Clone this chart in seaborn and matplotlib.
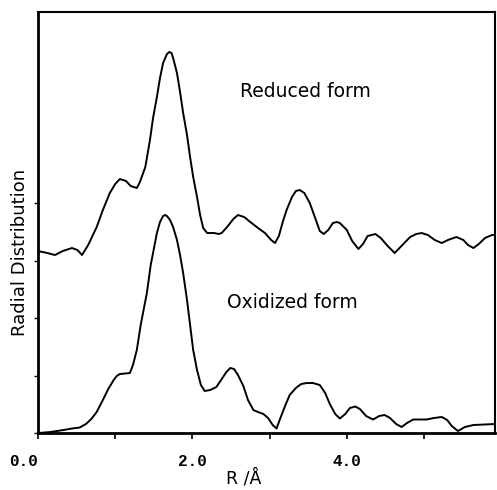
import numpy as np
import pandas as pd
import matplotlib
matplotlib.use("Agg")
import matplotlib.pyplot as plt
import seaborn as sns

# radial distribution curves (R in Angstrom, g in arbitrary units)
r_reduced = [0.00, 0.12, 0.22, 0.32, 0.44, 0.51, 0.57, 0.65, 0.76, 0.84, 0.93,
             1.00, 1.06, 1.14, 1.20, 1.28, 1.32, 1.39, 1.45, 1.49, 1.54, 1.58,
             1.62, 1.67, 1.70, 1.73, 1.75, 1.80, 1.84, 1.88, 1.93, 1.97, 2.01,
             2.06, 2.10, 2.14, 2.19, 2.28, 2.34, 2.38, 2.46, 2.53, 2.59, 2.67,
             2.75, 2.85, 2.94, 3.02, 3.07, 3.12, 3.17, 3.22, 3.29, 3.34, 3.39,
             3.45, 3.52, 3.60, 3.65, 3.70, 3.76, 3.82, 3.87, 3.91, 4.00, 4.07,
             4.15, 4.21, 4.27, 4.37, 4.44, 4.53, 4.62, 4.72, 4.82, 4.90, 4.97,
             5.05, 5.14, 5.23, 5.31, 5.42, 5.51, 5.57, 5.64, 5.71, 5.79, 5.88,
             5.92]
g_reduced = [182, 180, 178, 182, 185, 183, 178, 188, 206, 223, 240,
             249, 254, 252, 247, 245, 251, 266, 293, 315, 336, 355,
             370, 379, 381, 380, 375, 360, 341, 320, 298, 276, 256,
             236, 218, 205, 200, 200, 199, 200, 207, 214, 218, 216,
             211, 205, 200, 193, 190, 197, 211, 223, 236, 242, 243,
             240, 230, 213, 202, 199, 203, 210, 211, 210, 203, 192,
             184, 189, 197, 199, 195, 187, 180, 188, 196, 199, 200,
             198, 193, 190, 193, 196, 193, 188, 185, 189, 195, 198,
             198]

r_oxidized = [0.00, 0.16, 0.33, 0.44, 0.54, 0.62, 0.69, 0.76, 0.84, 0.91, 0.98,
              1.02, 1.06, 1.13, 1.19, 1.23, 1.28, 1.33, 1.41, 1.46, 1.54, 1.58,
              1.62, 1.65, 1.67, 1.71, 1.75, 1.80, 1.84, 1.88, 1.93, 1.97, 2.01,
              2.06, 2.11, 2.16, 2.23, 2.31, 2.38, 2.44, 2.49, 2.54, 2.59, 2.66,
              2.72, 2.79, 2.85, 2.92, 2.98, 3.04, 3.09, 3.13, 3.20, 3.26, 3.34,
              3.41, 3.48, 3.56, 3.65, 3.72, 3.78, 3.85, 3.91, 3.98, 4.04, 4.11,
              4.17, 4.25, 4.34, 4.42, 4.49, 4.56, 4.64, 4.71, 4.78, 4.86, 4.95,
              5.03, 5.13, 5.23, 5.30, 5.36, 5.44, 5.53, 5.64, 5.78, 5.92]
g_oxidized = [0, 1, 3, 4.5, 5.5, 9, 14, 21, 33, 44, 53,
              57, 59, 59.5, 60, 68, 83, 108, 140, 168, 200, 211,
              217, 218, 217, 213, 206, 193, 178, 160, 133, 108, 83,
              63, 48, 42, 43, 46, 54, 61, 65, 64, 58, 47,
              33, 23, 21, 19, 15, 8, 4.5, 13, 27, 38, 45,
              49, 50, 50, 48, 40, 29, 19, 14.5, 19, 25, 26.5,
              24, 17, 13.5, 17, 18, 15, 9, 6, 10, 13.5, 13.5,
              13.5, 15, 16, 13, 7, 2, 6, 8, 8.5, 9]

major_ticks = [0.0, 2.0, 4.0]
minor_ticks = [1.0, 3.0, 5.0]
tick_labels = ["0.0", "2.0", "4.0"]
y_ticks = [0, 57.5, 115, 172.5, 230]

df = pd.concat([
    pd.DataFrame({"R": r_reduced, "g": g_reduced, "form": "Reduced form"}),
    pd.DataFrame({"R": r_oxidized, "g": g_oxidized, "form": "Oxidized form"}),
])

sns.set_style("ticks", {"axes.edgecolor": "black", "text.color": "black",
                        "axes.labelcolor": "black", "xtick.color": "black",
                        "ytick.color": "black"})
fig = plt.figure(figsize=(4.97, 4.90), dpi=100)
ax = fig.add_axes([0.0765, 0.1163, 0.9195, 0.8592])

sns.lineplot(data=df, x="R", y="g", units="form", estimator=None, sort=False,
             color="black", linewidth=1.4, ax=ax, legend=False)

ax.set_xlim(0, 5.92)
ax.set_ylim(0, 421)

ax.set_xticks(major_ticks)
ax.set_xticklabels(tick_labels, family="Liberation Mono", fontweight="bold", fontsize=11.5)
ax.set_xticks(minor_ticks, minor=True)
ax.tick_params(axis="x", which="both", direction="out", length=4, width=1.2, pad=11)
ax.get_xticklabels()[0].set_ha("right")

ax.set_yticks(y_ticks)
ax.set_yticklabels([])
ax.tick_params(axis="y", direction="out", length=3, width=1)

for side in ["left", "bottom"]:
    ax.spines[side].set_linewidth(2.0)
for side in ["top", "right"]:
    ax.spines[side].set_linewidth(1.5)

ax.set_xlabel("R /Å", fontsize=12.5)
ax.xaxis.label.set_va("center")
ax.xaxis.set_label_coords(0.449, -0.107)
ax.set_ylabel("Radial Distribution", fontsize=13)
ax.yaxis.label.set_va("center")
ax.yaxis.set_label_coords(-0.039, 0.43)

ax.text(2.62, 342, "Reduced form", fontsize=13.5, va="center", ha="left")
ax.text(2.45, 131, "Oxidized form", fontsize=13.5, va="center", ha="left")

fig.savefig("out.png", dpi=100)
